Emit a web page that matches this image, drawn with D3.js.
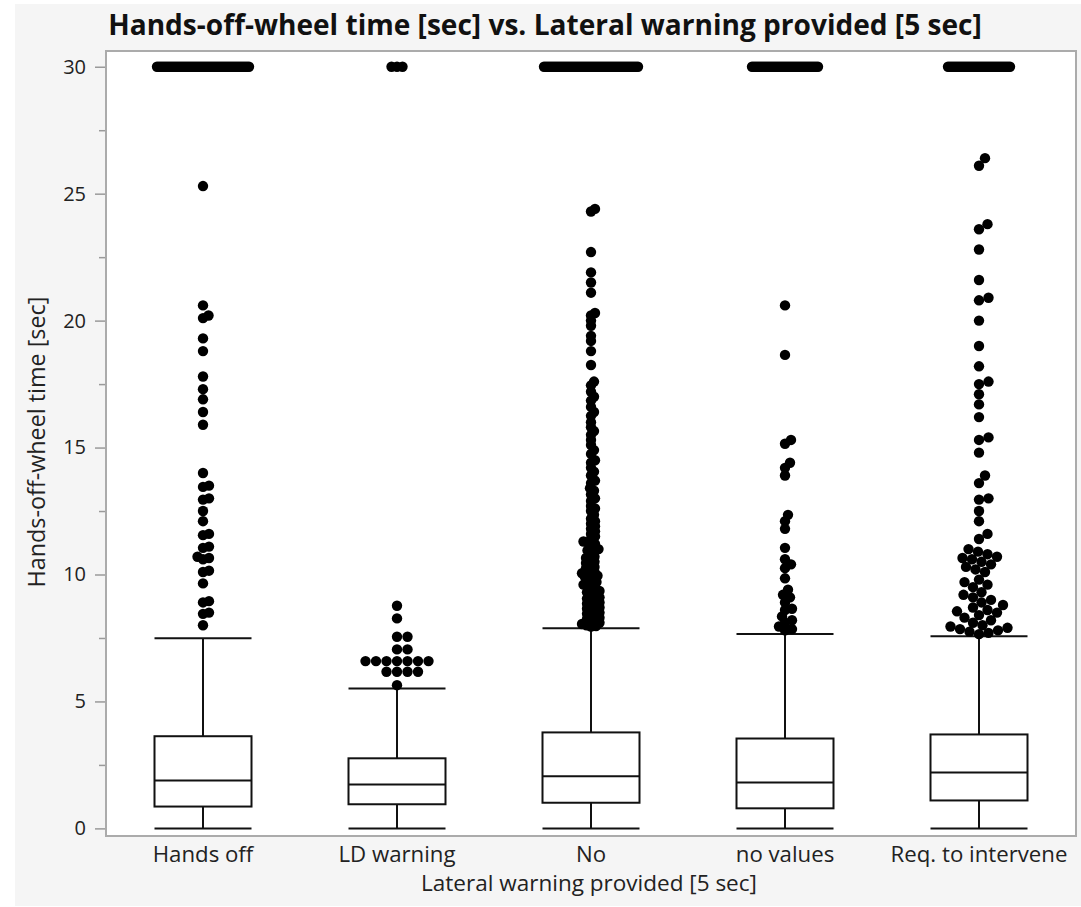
<!DOCTYPE html>
<html>
<head>
<meta charset="utf-8">
<script src="https://cdn.jsdelivr.net/npm/d3@7"></script>
<style>
  body { margin: 0; background: #fff; }
  text { font-family: "Segoe UI", "Open Sans", sans-serif; }
</style>
</head>
<body>
<svg id="chart" width="1081" height="907"></svg>
<script>
'use strict';

// ---- data ----
const categories = ['Hands off', 'LD warning', 'No', 'no values', 'Req. to intervene'];

const lowerWhisker = [0, 0, 0, 0, 0];
const q1 = [0.86, 0.95, 1.01, 0.79, 1.10];
const median = [1.89, 1.73, 2.05, 1.81, 2.20];
const q3 = [3.63, 2.76, 3.78, 3.54, 3.70];
const upperWhisker = [7.49, 5.51, 7.88, 7.66, 7.57];

// number of observations sitting at the 30 sec ceiling
const cappedCount = [47, 3, 48, 34, 32];
const cappedValue = 30;

const outliersHandsOff = [25.3, 20.6, 20.2, 20.1, 19.3, 18.8, 17.8, 17.3, 16.9, 16.4, 15.9,
  14.0, 13.5, 13.45, 13.0, 12.95, 12.5, 12.1, 11.6, 11.55, 11.1, 11.05, 10.7, 10.65, 10.6,
  10.15, 10.1, 9.65, 8.95, 8.9, 8.5, 8.45, 8.0];

const outliersLD = [8.77, 8.27, 7.55, 7.55, 7.05, 7.05, 6.59, 6.59, 6.59, 6.59, 6.59, 6.59, 6.59,
  6.17, 6.17, 6.17, 6.17, 5.64];

const outliersNo = [24.4, 24.3, 22.7, 21.9, 21.5, 21.1, 20.3, 20.2, 20.0, 19.8, 19.4, 19.2, 18.8,
  18.25, 17.6, 17.45, 17.2, 17.0, 16.85, 16.6, 16.4, 16.25, 16.0, 15.8, 15.65, 15.5, 15.3, 15.1,
  14.9, 14.75, 14.5, 14.4, 14.2, 14.05, 13.9, 13.7, 13.6, 13.4, 13.3, 13.15, 13.0, 12.9, 12.7,
  12.6, 12.5, 12.35, 12.2, 12.1, 12.0, 11.9, 11.8, 11.7, 11.6, 11.5, 11.4, 11.3, 11.25, 11.2,
  11.1, 11.0, 10.95, 10.9, 10.8, 10.7, 10.65, 10.6, 10.5, 10.45, 10.4, 10.3, 10.25, 10.2, 10.1,
  10.05, 10.0, 9.95, 9.9, 9.85, 9.8, 9.7, 9.65, 9.6, 9.55, 9.5, 9.4, 9.35, 9.3, 9.25, 9.2, 9.1,
  9.05, 9.0, 8.95, 8.9, 8.85, 8.8, 8.75, 8.7, 8.65, 8.6, 8.55, 8.5, 8.45, 8.4, 8.35, 8.3, 8.25,
  8.2, 8.15, 8.1, 8.05, 8.0, 7.97, 7.95];

const outliersNoValues = [20.6, 18.65, 15.3, 15.15, 14.4, 14.2, 13.9, 12.35, 12.1, 11.8, 11.05,
  10.6, 10.4, 10.25, 9.85, 9.4, 9.2, 9.1, 8.9, 8.65, 8.6, 8.35, 8.2, 8.1, 7.95, 7.85, 7.8];

const outliersReq = [26.4, 26.1, 23.8, 23.6, 22.8, 21.6, 20.9, 20.8, 20.0, 19.0, 18.2, 17.6, 17.5,
  17.1, 16.7, 16.2, 15.4, 15.3, 14.8, 13.9, 13.6, 13.0, 12.95, 12.5, 12.1, 11.6, 11.4, 11.0, 10.9,
  10.8, 10.7, 10.65, 10.6, 10.5, 10.4, 10.3, 10.2, 10.1, 9.8, 9.7, 9.6, 9.5, 9.3, 9.2, 9.1, 9.0,
  8.9, 8.8, 8.7, 8.6, 8.55, 8.5, 8.4, 8.3, 8.2, 8.1, 8.0, 7.95, 7.9, 7.85, 7.8, 7.75, 7.7, 7.65];

const outliers = [outliersHandsOff, outliersLD, outliersNo, outliersNoValues, outliersReq];

const yMajorTicks = [0, 5, 10, 15, 20, 25, 30];
const yMinorTicks = [2.5, 7.5, 12.5, 17.5, 22.5, 27.5];

// ---- styles ----
const swarmGap = [6, 10.5, 4.6, 7, 9.5];   // min distance between outlier dots (px)
const capStep = [2, 5.5, 2, 2, 2];         // horizontal step for points at the ceiling
const dotR = 5.2;

const svg = d3.select('#chart');
const plot = { left: 106, right: 1076, top: 51, bottom: 836 };

// grey panel behind everything
svg.append('rect')
  .attr('x', 15).attr('y', 4)
  .attr('width', 1066).attr('height', 902)
  .attr('fill', '#f5f5f5');

const x = d3.scaleBand().domain(categories).range([plot.left, plot.right]);
const y = d3.scaleLinear().domain([-0.3, 30.62]).range([plot.bottom, plot.top]);

svg.append('rect')
  .attr('x', plot.left).attr('y', plot.top)
  .attr('width', plot.right - plot.left).attr('height', plot.bottom - plot.top)
  .attr('fill', '#fff').attr('stroke', '#ababab').attr('stroke-width', 2);

// scale a text's font size so it spans the target width
function fitWidth(sel, target) {
  const base = parseFloat(sel.style('font-size'));
  const w = sel.node().getComputedTextLength();
  sel.style('font-size', (base * target / w) + 'px');
}

// ---- y axis ----
const yAxisG = svg.append('g').attr('transform', `translate(${plot.left - 1},0)`);
yAxisG.call(d3.axisLeft(y).tickValues(yMajorTicks).tickSize(10).tickPadding(9).tickFormat(d3.format('d')));
yAxisG.select('.domain').remove();
yAxisG.selectAll('line').attr('stroke', '#9a9a9a').attr('stroke-width', 1.5);
yAxisG.selectAll('text').style('font-size', '20px').attr('fill', '#222').attr('font-family', null);

const yMinorG = svg.append('g').attr('transform', `translate(${plot.left - 1},0)`);
yMinorG.call(d3.axisLeft(y).tickValues(yMinorTicks).tickSize(6).tickFormat(''));
yMinorG.select('.domain').remove();
yMinorG.selectAll('line').attr('stroke', '#9a9a9a').attr('stroke-width', 1.5);

// ---- x axis ----
const xAxisG = svg.append('g').attr('transform', `translate(0,${plot.bottom})`);
xAxisG.call(d3.axisBottom(x).tickSize(0));
xAxisG.select('.domain').remove();
const xLabels = xAxisG.selectAll('text')
  .attr('dy', null).attr('y', 26)
  .attr('fill', '#222').attr('font-family', null)
  .style('font-size', '20px');
// size category labels so that "Req. to intervene" spans ~177px
{
  const last = xLabels.filter(d => d === 'Req. to intervene');
  const w = last.node().getComputedTextLength();
  xLabels.style('font-size', (20 * 177 / w) + 'px');
}

// ---- titles ----
const title = svg.append('text')
  .attr('x', 545).attr('y', 35)
  .attr('text-anchor', 'middle')
  .attr('font-weight', 'bold')
  .attr('fill', '#111')
  .style('font-size', '24px')
  .text('Hands-off-wheel time [sec] vs. Lateral warning provided [5 sec]');
fitWidth(title, 874);

const xTitle = svg.append('text')
  .attr('x', 589).attr('y', 891)
  .attr('text-anchor', 'middle')
  .attr('fill', '#222')
  .style('font-size', '19px')
  .text('Lateral warning provided [5 sec]');
fitWidth(xTitle, 336);

const yTitle = svg.append('text')
  .attr('transform', 'translate(45,442) rotate(-90)')
  .attr('text-anchor', 'middle')
  .attr('fill', '#222')
  .style('font-size', '17px')
  .text('Hands-off-wheel time [sec]');
fitWidth(yTitle, 291);

// ---- boxes ----
const groups = categories.map((c, i) => ({
  cat: c, lo: lowerWhisker[i], q1: q1[i], med: median[i], q3: q3[i], hi: upperWhisker[i]
}));

const boxW = x.bandwidth() * 0.5;
const boxG = svg.append('g')
  .attr('fill', 'none').attr('stroke', '#111').attr('stroke-width', 2);

const g = boxG.selectAll('g.box').data(groups).join('g').attr('class', 'box')
  .attr('transform', d => `translate(${x(d.cat) + x.bandwidth() / 2},0)`);

g.append('rect')
  .attr('x', -boxW / 2).attr('width', boxW)
  .attr('y', d => y(d.q3)).attr('height', d => y(d.q1) - y(d.q3));
g.append('line')
  .attr('x1', -boxW / 2).attr('x2', boxW / 2)
  .attr('y1', d => y(d.med)).attr('y2', d => y(d.med));
g.append('line')
  .attr('x1', 0).attr('x2', 0)
  .attr('y1', d => y(d.q3)).attr('y2', d => y(d.hi));
g.append('line')
  .attr('x1', 0).attr('x2', 0)
  .attr('y1', d => y(d.q1)).attr('y2', d => y(d.lo));
g.append('line')
  .attr('x1', -boxW / 2).attr('x2', boxW / 2)
  .attr('y1', d => y(d.hi)).attr('y2', d => y(d.hi));
g.append('line')
  .attr('x1', -boxW / 2).attr('x2', boxW / 2)
  .attr('y1', d => y(d.lo)).attr('y2', d => y(d.lo));

// ---- outlier dots ----
// simple beeswarm: each point goes to the nearest free slot beside the centre line
function swarm(vals, gap) {
  const placed = [];
  vals.slice().sort((a, b) => a - b).forEach(v => {
    const py = y(v);
    for (let k = 0; k < 2000; k++) {
      const dx = (k % 2 ? 1 : -1) * Math.ceil(k / 2) * 0.5;
      if (placed.every(p => (p.dx - dx) ** 2 + (p.py - py) ** 2 >= gap * gap - 1e-6)) {
        placed.push({ v, py, dx });
        break;
      }
    }
  });
  return placed;
}

const dotG = svg.append('g').attr('fill', '#000');

categories.forEach((c, i) => {
  const cx = x(c) + x.bandwidth() / 2;
  const pts = swarm(outliers[i], swarmGap[i]);
  dotG.selectAll(null).data(pts).join('circle')
    .attr('cx', d => cx + d.dx)
    .attr('cy', d => d.py)
    .attr('r', dotR);

  const n = cappedCount[i];
  dotG.selectAll(null).data(d3.range(n)).join('circle')
    .attr('cx', j => cx + (j - (n - 1) / 2) * capStep[i])
    .attr('cy', y(cappedValue))
    .attr('r', dotR);
});
</script>
</body>
</html>
